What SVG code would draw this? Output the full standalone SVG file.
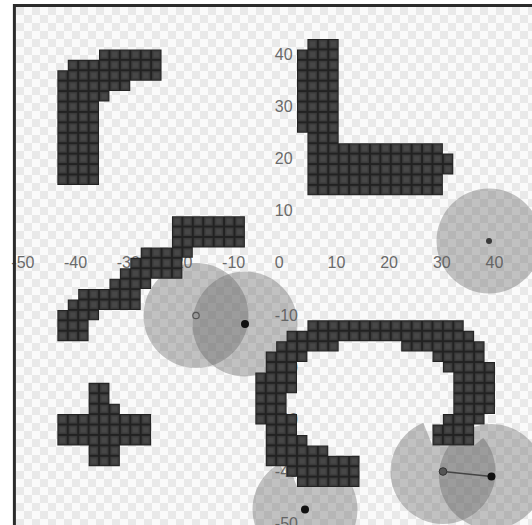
<svg xmlns="http://www.w3.org/2000/svg" width="532" height="525" viewBox="0 0 532 525">
<style>
.lbl{font-family:"Liberation Sans",Arial,sans-serif;font-size:16px;fill:#6a6a6a}
.light{fill:#5c5c5c;fill-opacity:0.36}
.wall{fill:url(#cell)}
</style>
<defs>
<pattern id="chk" patternUnits="userSpaceOnUse" x="16" y="7" width="16" height="16">
<rect width="16" height="16" fill="#fafafa"/>
<rect width="8" height="8" fill="#e9e9e9"/>
<rect x="8" y="8" width="8" height="8" fill="#e9e9e9"/>
</pattern>
<pattern id="cell" patternUnits="userSpaceOnUse" width="1" height="1">
<rect width="1" height="1" fill="#222"/>
<rect x="0.1" y="0.1" width="0.8" height="0.8" fill="#3c3c3c"/>
<rect x="0.24" y="0.24" width="0.52" height="0.52" fill="#474747"/>
</pattern>
<mask id="m4" maskUnits="userSpaceOnUse" x="0" y="0" width="532" height="525">
<rect width="532" height="525" fill="#fff"/>
<polygon points="286.58,476.64 286.58,466.22 280.74,466.22" fill="#000"/>
<polygon points="297,487.06 297,476.64 293.29,476.64" fill="#000"/>
</mask>
<mask id="m5" maskUnits="userSpaceOnUse" x="0" y="0" width="532" height="525">
<rect width="532" height="525" fill="#fff"/>
<polygon points="432.46,445.38 400.84,367.02 567.56,367.02 474.14,445.38" fill="#000"/>
</mask>
</defs>
<rect width="532" height="525" fill="#fff"/>
<rect x="16" y="7" width="516" height="518" fill="url(#chk)"/>
<g id="axis-labels">
<text class="lbl" x="11.3" y="268.4">-50</text>
<text class="lbl" x="64" y="268.4">-40</text>
<text class="lbl" x="116.7" y="268.4">-30</text>
<text class="lbl" x="169.4" y="268.4">-20</text>
<text class="lbl" x="222.1" y="268.4">-10</text>
<text class="lbl" x="274.8" y="268.4">0</text>
<text class="lbl" x="327.5" y="268.4">10</text>
<text class="lbl" x="380.2" y="268.4">20</text>
<text class="lbl" x="432.9" y="268.4">30</text>
<text class="lbl" x="485.6" y="268.4">40</text>
<text class="lbl" x="274.8" y="59.6">40</text>
<text class="lbl" x="274.8" y="111.8">30</text>
<text class="lbl" x="274.8" y="164">20</text>
<text class="lbl" x="274.8" y="216.2">10</text>
<text class="lbl" x="274.8" y="320.6">-10</text>
<text class="lbl" x="274.8" y="372.8">-20</text>
<text class="lbl" x="274.8" y="425">-30</text>
<text class="lbl" x="274.8" y="477.2">-40</text>
<text class="lbl" x="274.8" y="529.4">-50</text>
</g>
<g id="lights">
<g id="light-1"><circle class="light" cx="489" cy="241" r="52.5"/></g>
<g id="light-2"><circle class="light" cx="196" cy="315.5" r="52.5"/></g>
<g id="light-3"><circle class="light" cx="245" cy="324" r="52.5"/></g>
<g id="light-4"><circle class="light" cx="305" cy="509.5" r="52.5" mask="url(#m4)"/></g>
<g id="light-5"><circle class="light" cx="443" cy="471.5" r="52.5" mask="url(#m5)"/></g>
<g id="light-6"><circle class="light" cx="491.5" cy="476.5" r="52.5"/></g>
</g>
<g id="walls" transform="translate(297 39) scale(10.42)">
<g id="wall-a"><path class="wall" d="M-23 3h1v11h-1z M-22 2h3v12h-3z M-19 1h1v5h-1z M-18 1h2v4h-2z M-16 1h3v3h-3z"/></g>
<g id="wall-b"><path class="wall" d="M0 1h1v8h-1z M1 0h3v15h-3z M4 10h10v5h-10z M14 11h1v2h-1z"/></g>
<g id="wall-c"><path class="wall" d="M-12 17h7v3h-7z M-15 20h5v1h-5z M-16 21h5v1h-5z M-17 22h6v1h-6z M-18 23h4v1h-4z M-21 24h6v1h-6z M-22 25h7v1h-7z M-23 26h4v1h-4z M-23 27h3v2h-3z"/></g>
<g id="wall-d"><path class="wall" d="M-20 33h2v8h-2z M-18 35h1v6h-1z M-23 36h3v3h-3z M-17 36h3v3h-3z"/></g>
<g id="wall-e"><path class="wall" d="M1 27h15v1h-15z M-1 28h18v1h-18z M-2 29h6v1h-6z M10 29h8v1h-8z M-3 30h4v1h-4z M13 30h5v1h-5z M-3 31h3v1h-3z M14 31h5v1h-5z M-4 32h4v2h-4z M15 32h4v4h-4z M-4 34h3v2h-3z M-4 36h4v1h-4z M14 36h4v1h-4z M-3 37h3v1h-3z M13 37h4v2h-4z M-3 38h4v1h-4z M-3 39h6v1h-6z M-3 40h9v1h-9z M-1 41h7v1h-7z M0 42h6v1h-6z"/></g>
</g>
<g id="connectors">
<line x1="443" y1="471.5" x2="491.5" y2="476.5" stroke="#444" stroke-width="1.5"/>
</g>
<g id="markers">
<circle cx="489" cy="241" r="3" fill="#3a3a3a"/>
<circle cx="196" cy="315.5" r="3.2" fill="#9a9a9a" stroke="#555" stroke-width="1.2"/>
<circle cx="245" cy="324" r="4" fill="#111"/>
<circle cx="305" cy="509.5" r="4" fill="#111"/>
<circle cx="443" cy="471.5" r="3.8" fill="#555" stroke="#333" stroke-width="1"/>
<circle cx="491.5" cy="476.5" r="4" fill="#111"/>
</g>
<path d="M14.4 525V5.4H532" fill="none" stroke="#2b2b2b" stroke-width="3"/>
</svg>
